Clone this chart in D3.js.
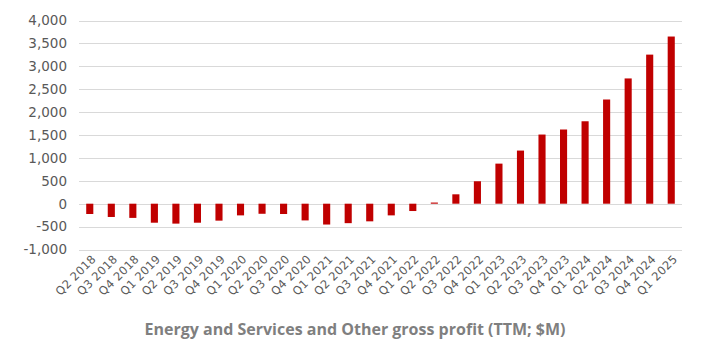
<!DOCTYPE html>
<html>
<head>
<meta charset="utf-8">
<script src="https://cdn.jsdelivr.net/npm/d3@7"></script>
<style>
  body { margin: 0; background: #ffffff; }
</style>
</head>
<body>
<div id="chart"></div>
<script>
// quarters (TTM)
const quarters = ["Q2 2018","Q3 2018","Q4 2018","Q1 2019","Q2 2019","Q3 2019","Q4 2019",
  "Q1 2020","Q2 2020","Q3 2020","Q4 2020","Q1 2021","Q2 2021","Q3 2021","Q4 2021",
  "Q1 2022","Q2 2022","Q3 2022","Q4 2022","Q1 2023","Q2 2023","Q3 2023","Q4 2023",
  "Q1 2024","Q2 2024","Q3 2024","Q4 2024","Q1 2025"];

const grossProfit = [-225, -290, -310, -415, -435, -415, -370,
  -255, -220, -225, -365, -455, -425, -385, -255,
  -160, 25, 205, 490, 875, 1160, 1510, 1620,
  1800, 2275, 2735, 3255, 3650];

const yTicks = [-1000, -500, 0, 500, 1000, 1500, 2000, 2500, 3000, 3500, 4000];

const title = "Energy and Services and Other gross profit (TTM; $M)";

const w = 706, h = 349;
const margin = { top: 20, right: 24, bottom: 100, left: 79 };

const svg = d3.select("div#chart")
  .append("svg")
  .attr("width", w)
  .attr("height", h);

const x = d3.scaleBand()
  .domain(quarters)
  .range([margin.left, w - margin.right])
  .paddingInner(0.67)
  .paddingOuter(0.335);

const y = d3.scaleLinear()
  .domain([-1000, 4000])
  .range([249.5, 20.5]);

// gridlines
svg.append("g")
  .selectAll("line")
  .data(yTicks)
  .join("line")
  .attr("x1", margin.left)
  .attr("x2", w - margin.right)
  .attr("y1", d => Math.round(y(d)) + 0.5)
  .attr("y2", d => Math.round(y(d)) + 0.5)
  .attr("stroke", "#d9d9d9")
  .attr("stroke-width", 1);

// y axis labels
const yAxis = d3.axisLeft(y)
  .tickValues(yTicks)
  .tickFormat(d3.format(","))
  .tickSize(0)
  .tickPadding(0);

svg.append("g")
  .attr("transform", "translate(67,0)")
  .call(yAxis)
  .call(g => g.select(".domain").remove())
  .selectAll("text")
  .attr("font-family", "DejaVu Sans, sans-serif")
  .attr("font-size", 13.5)
  .attr("fill", "#595959")
  .text(d => d < 0 ? "-" + d3.format(",")(-d) : d3.format(",")(d));

// bars
svg.append("g")
  .selectAll("rect")
  .data(quarters.map((q, i) => ({ q: q, v: grossProfit[i] })))
  .join("rect")
  .attr("x", d => x(d.q))
  .attr("width", x.bandwidth())
  .attr("y", d => y(Math.max(0, d.v)))
  .attr("height", d => Math.abs(y(d.v) - y(0)))
  .attr("fill", "#c00000");

// x axis labels
const xAxis = d3.axisBottom(x).tickSize(0).tickPadding(0);

svg.append("g")
  .attr("transform", "translate(0,257)")
  .call(xAxis)
  .call(g => g.select(".domain").remove())
  .selectAll("text")
  .attr("font-family", "DejaVu Sans, sans-serif")
  .attr("font-size", 11.5)
  .attr("letter-spacing", 0.3)
  .attr("fill", "#595959")
  .attr("text-anchor", "end")
  .attr("dy", "0.35em")
  .attr("transform", "translate(4,0) rotate(-45)");

// title
svg.append("text")
  .attr("x", 355)
  .attr("y", 335)
  .attr("text-anchor", "middle")
  .attr("font-family", "Open Sans, sans-serif")
  .attr("font-weight", "bold")
  .attr("font-size", 16)
  .attr("fill", "#7f7f7f")
  .text(title);
</script>
</body>
</html>
